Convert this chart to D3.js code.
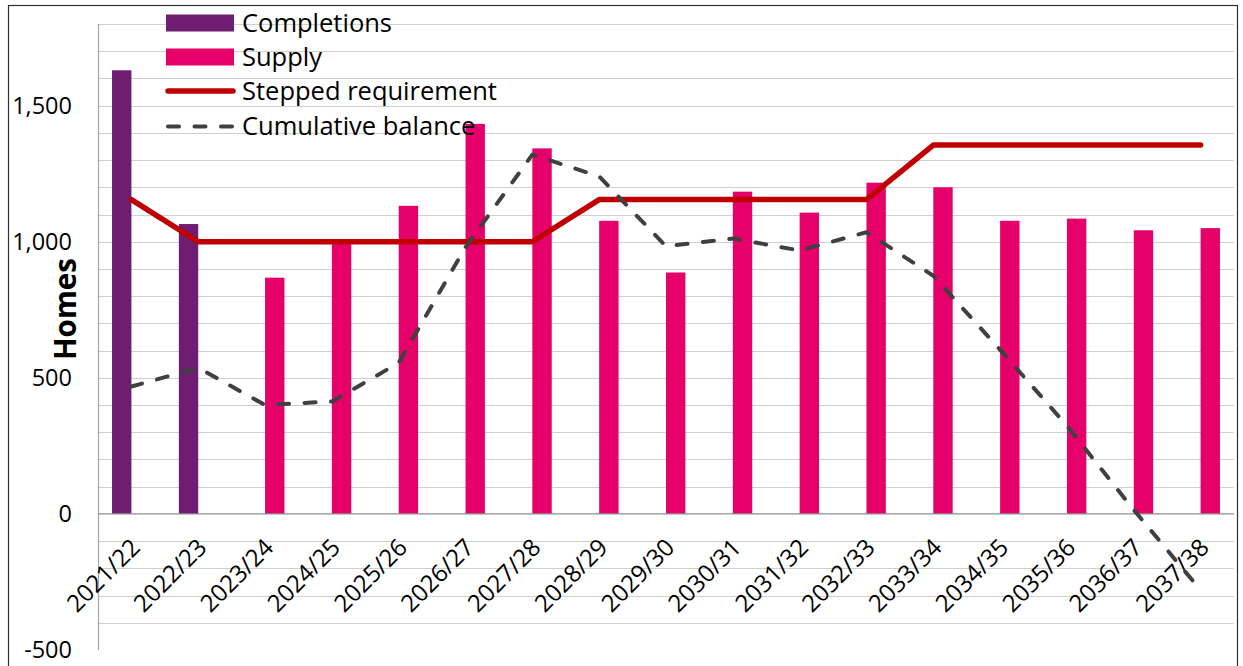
<!DOCTYPE html>
<html>
<head>
<meta charset="utf-8">
<script src="https://cdn.jsdelivr.net/npm/d3@7"></script>
<style>
  html, body { margin: 0; padding: 0; background: #fff; }
  svg { display: block; }
  text { font-family: "Open Sans", sans-serif; fill: #000; }
</style>
</head>
<body>
<svg id="chart" width="1243" height="666"></svg>
<script>
// ---- Data ----
const categories = ["2021/22","2022/23","2023/24","2024/25","2025/26","2026/27","2027/28","2028/29","2029/30","2030/31","2031/32","2032/33","2033/34","2034/35","2035/36","2036/37","2037/38"];
const completions = [1630, 1065, null, null, null, null, null, null, null, null, null, null, null, null, null, null, null];
const supply = [null, null, 868, 1010, 1132, 1433, 1343, 1077, 887, 1184, 1107, 1217, 1200, 1077, 1085, 1042, 1050];
const steppedRequirement = [1155, 1000, 1000, 1000, 1000, 1000, 1000, 1155, 1155, 1155, 1155, 1155, 1355, 1355, 1355, 1355, 1355];
const cumulativeBalance = [468, 537, 400, 413, 555, 980, 1320, 1240, 983, 1012, 968, 1035, 875, 603, 324, 15, -280];
const yTickLabels = [-500, 0, 500, 1000, 1500];
const seriesNames = ["Completions", "Supply", "Stepped requirement", "Cumulative balance"];

// ---- Layout ----
const svg = d3.select("#chart");
const plotLeft = 98, plotRight = 1234, plotTop = 24, plotBottom = 650;
const colors = { Completions: "#6E1D70", Supply: "#E5006A", req: "#C00000", bal: "#404040" };

// outer border
svg.append("rect").attr("x", 8.5).attr("y", 5.5).attr("width", 1229).attr("height", 700)
  .attr("fill", "none").attr("stroke", "#303030").attr("stroke-width", 1.2);

const x = d3.scaleBand().domain(categories).range([plotLeft, plotRight]).paddingInner(0.42).paddingOuter(0.21);
const x1 = d3.scaleBand().domain(["Completions", "Supply"]).range([0, x.bandwidth()]);
const y = d3.scaleLinear().domain([-500, 1800]).range([plotBottom, plotTop]);
const cx = c => x(c) + x.bandwidth() / 2;

// gridlines every 100
const gridVals = d3.range(-400, 1801, 100).filter(v => v !== 0);
svg.append("g").selectAll("line").data(gridVals).join("line")
  .attr("x1", plotLeft).attr("x2", plotRight)
  .attr("y1", d => Math.round(y(d)) + 0.5).attr("y2", d => Math.round(y(d)) + 0.5)
  .attr("stroke", "#CFCFCF").attr("stroke-width", 1.2);

// y axis line
svg.append("line").attr("x1", plotLeft + 0.5).attr("x2", plotLeft + 0.5).attr("y1", plotTop).attr("y2", plotBottom)
  .attr("stroke", "#A6A6A6").attr("stroke-width", 1.2);

// y tick labels (hyphen minus, thousands comma)
const fmt = d3.format(",");
const yAxis = d3.axisLeft(y).tickValues(yTickLabels).tickSize(0).tickPadding(0)
  .tickFormat(d => fmt(d).replace("\u2212", "-"));
const yg = svg.append("g").attr("transform", `translate(${72},0)`).call(yAxis);
yg.select(".domain").remove();
yg.selectAll("text").attr("font-size", 23.5).attr("font-family", "Open Sans, sans-serif").attr("fill", "#000");

// y title
svg.append("text").attr("transform", `translate(76,${309}) rotate(-90)`)
  .attr("text-anchor", "middle").attr("font-size", 29.5).attr("font-weight", "bold").text("Homes");

// bars
const barData = [];
categories.forEach((c, i) => {
  if (completions[i] != null) barData.push({ c, key: "Completions", v: completions[i] });
  if (supply[i] != null) barData.push({ c, key: "Supply", v: supply[i] });
});
svg.append("g").selectAll("rect").data(barData).join("rect")
  .attr("x", d => x(d.c) + x1(d.key))
  .attr("width", x1.bandwidth())
  .attr("y", d => y(Math.max(0, d.v)))
  .attr("height", d => Math.abs(y(d.v) - y(0)))
  .attr("fill", d => colors[d.key]);

// zero line
svg.append("line").attr("x1", plotLeft).attr("x2", plotRight).attr("y1", y(0)).attr("y2", y(0))
  .attr("stroke", "#8C8C8C").attr("stroke-width", 1.3);

// x axis labels
const xAxis = d3.axisBottom(x).tickSize(0).tickPadding(0);
const xg = svg.append("g").call(xAxis);
xg.select(".domain").remove();
xg.selectAll(".tick").attr("transform", d => `translate(${cx(d) + 4},${543})`);
xg.selectAll("text").attr("font-size", 24).attr("font-family", "Open Sans, sans-serif").attr("fill", "#000")
  .attr("text-anchor", "end").attr("y", 0).attr("dy", "0.35em").attr("transform", "rotate(-45)");

// stepped requirement line
const lineGen = d3.line().x((d, i) => cx(categories[i])).y(d => y(d));
svg.append("path").datum(steppedRequirement).attr("d", lineGen)
  .attr("fill", "none").attr("stroke", colors.req).attr("stroke-width", 5.5)
  .attr("stroke-linejoin", "round").attr("stroke-linecap", "round");

// cumulative balance line
svg.append("path").datum(cumulativeBalance).attr("d", lineGen)
  .attr("fill", "none").attr("stroke", colors.bal).attr("stroke-width", 4)
  .attr("stroke-dasharray", "11,15.5").attr("stroke-linecap", "round").attr("stroke-linejoin", "round");

// legend
const lg = svg.append("g");
const legY = [23, 57, 91, 126];
lg.append("rect").attr("x", 166).attr("y", legY[0] - 8.5).attr("width", 68).attr("height", 17).attr("fill", colors.Completions);
lg.append("rect").attr("x", 166).attr("y", legY[1] - 8.5).attr("width", 68).attr("height", 17).attr("fill", colors.Supply);
lg.append("line").attr("x1", 168).attr("x2", 233).attr("y1", legY[2]).attr("y2", legY[2])
  .attr("stroke", colors.req).attr("stroke-width", 5.5).attr("stroke-linecap", "round");
lg.append("line").attr("x1", 168).attr("x2", 235).attr("y1", legY[3] + 0.5).attr("y2", legY[3] + 0.5)
  .attr("stroke", colors.bal).attr("stroke-width", 4).attr("stroke-dasharray", "11,15.5").attr("stroke-linecap", "round");
lg.selectAll("text").data(seriesNames).join("text")
  .attr("x", 242).attr("y", (d, i) => legY[i]).attr("dy", "0.36em")
  .attr("font-size", 25.5).text(d => d);
</script>
</body>
</html>
